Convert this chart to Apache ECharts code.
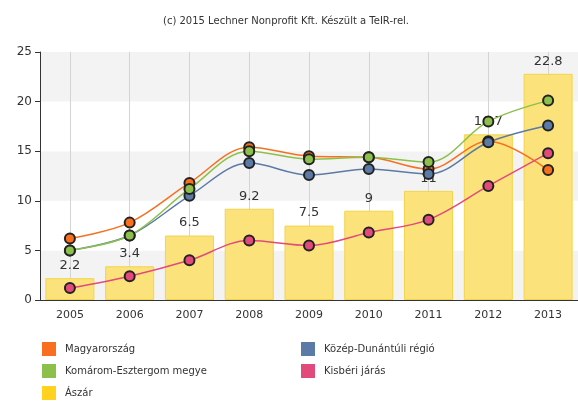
<!DOCTYPE html>
<html>
<head>
<meta charset="utf-8">
<script src="https://cdn.jsdelivr.net/npm/echarts@6/dist/echarts.min.js"></script>
<style>html,body{margin:0;padding:0;background:#fff}#c{width:578px;height:403px}</style>
</head>
<body>
<div id="c"></div>
<script>
var titleText = '(c) 2015 Lechner Nonprofit Kft. Készült a TeIR-rel.';
var years = ['2005','2006','2007','2008','2009','2010','2011','2012','2013'];
var yTicks = {min: 0, max: 25, interval: 5};
var magyarorszag = [6.2, 7.8, 11.8, 15.4, 14.5, 14.4, 13.2, 16.0, 13.1];
var komarom = [5.0, 6.5, 11.2, 15.0, 14.2, 14.4, 13.9, 18.0, 20.1];
var kozepDunantul = [5.0, 6.5, 10.5, 13.8, 12.6, 13.2, 12.7, 15.9, 17.6];
var kisber = [1.2, 2.4, 4.0, 6.0, 5.5, 6.8, 8.1, 11.5, 14.8];
var aszar = [2.2, 3.4, 6.5, 9.2, 7.5, 9, 11, 16.7, 22.8];

var chart = echarts.init(document.getElementById('c'));
function lineSeries(name, data, color) {
  return {
    name: name, type: 'line', data: data, smooth: 0.35, z: 4,
    symbol: 'circle', symbolSize: 10,
    lineStyle: {color: color, width: 1.5},
    itemStyle: {color: color, borderColor: '#222', borderWidth: 2},
    emphasis: {disabled: true}
  };
}
var txt = {color: '#333', fontFamily: 'DejaVu Sans'};
var legendBase = {orient: 'vertical', top: 342, height: 80, padding: 0, itemWidth: 14, itemHeight: 14, itemGap: 8, icon: 'rect',
  itemStyle: {borderWidth: 0},
  textStyle: {fontSize: 10, color: '#333', padding: [0,0,0,4], fontFamily: 'DejaVu Sans'}};
chart.setOption({
  animation: false,
  textStyle: {fontFamily: 'DejaVu Sans'},
  title: {text: titleText, left: 281, textAlign: 'center', top: 11,
    textStyle: {fontSize: 10, fontWeight: 'normal', color: '#333', fontFamily: 'DejaVu Sans'}},
  grid: {left: 40, right: 0, top: 52, bottom: 103, containLabel: false},
  legend: [
    Object.assign({left: 42,
     data: ['Magyarország', 'Komárom-Esztergom megye', {name: 'Ászár', itemStyle: {color: '#ffd21f', borderWidth: 0}}]}, legendBase),
    Object.assign({left: 301,
     data: ['Közép-Dunántúli régió', 'Kisbéri járás']}, legendBase)
  ],
  xAxis: {
    type: 'category', data: years,
    axisLine: {lineStyle: {color: '#333'}},
    axisTick: {alignWithLabel: true, length: 5, lineStyle: {color: '#333'}},
    axisLabel: Object.assign({fontSize: 11, margin: 10}, txt),
    splitLine: {show: false}
  },
  yAxis: {
    type: 'value', min: yTicks.min, max: yTicks.max, interval: yTicks.interval,
    axisLine: {show: true, lineStyle: {color: '#333'}},
    axisTick: {show: true, length: 5, lineStyle: {color: '#333'}},
    axisLabel: Object.assign({fontSize: 12, margin: 8}, txt),
    splitLine: {show: false},
    splitArea: {show: true, areaStyle: {color: ['#f3f3f3', '#ffffff']}}
  },
  series: [
    {name: 'grid', type: 'line', data: [], z: 1, silent: true,
     markLine: {z: 1, silent: true, symbol: 'none', label: {show: false},
       lineStyle: {color: '#d4d4d4', width: 1, type: 'solid'},
       data: years.map(function (y) { return {xAxis: y}; })}},
    {name: 'Ászár', type: 'bar', data: aszar, barCategoryGap: '18%', z: 2,
     itemStyle: {color: '#fbe27b', borderColor: '#f3d44a', borderWidth: 1},
     label: {show: true, position: 'top', distance: 6, fontSize: 13, color: '#333', fontFamily: 'DejaVu Sans'},
     emphasis: {disabled: true}},
    lineSeries('Magyarország', magyarorszag, '#f8701f'),
    lineSeries('Közép-Dunántúli régió', kozepDunantul, '#5b7aa6'),
    lineSeries('Komárom-Esztergom megye', komarom, '#8cc04a'),
    lineSeries('Kisbéri járás', kisber, '#e24a7c')
  ]
});
</script>
</body>
</html>
